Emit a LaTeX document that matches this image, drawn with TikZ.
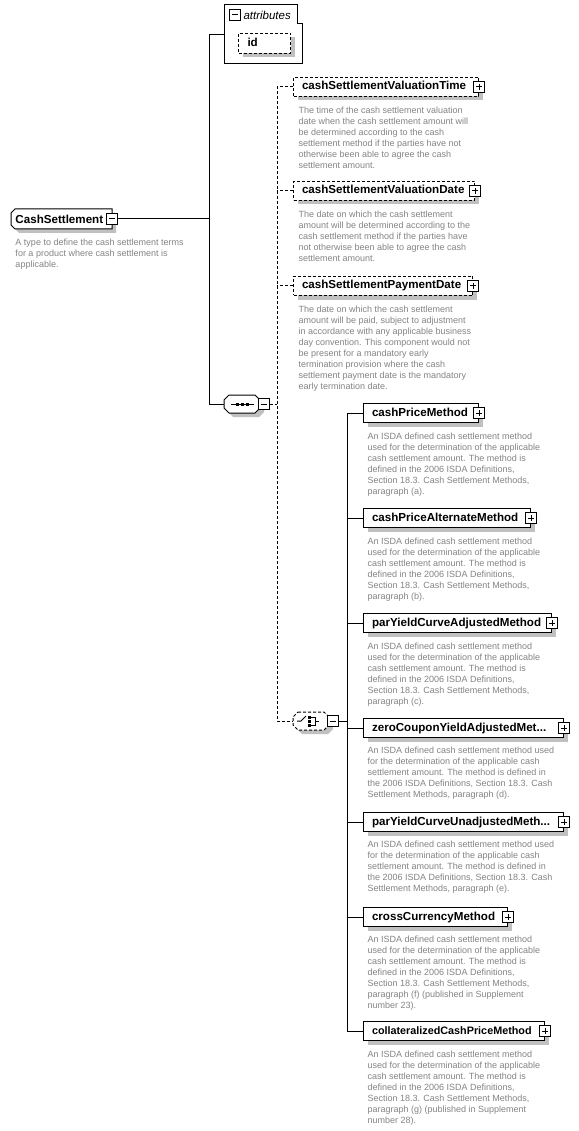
\documentclass[tikz,border=0pt]{standalone}
\usepackage{fontspec}
\setmainfont{Liberation Sans}
\usetikzlibrary{shadows}
\definecolor{descgray}{RGB}{132,132,132}
\definecolor{shadowgray}{RGB}{192,192,192}
\newcommand{\titlefont}{\bfseries\fontsize{11.6}{13}\selectfont}
\newcommand{\descfont}{\fontsize{9}{11}\selectfont}
\newcommand{\octo}[6]{%
  \draw[#1] (#2+#6,#3) -- (#4-#6,#3) -- (#4,#3+#6) -- (#4,#5-#6) -- (#4-#6,#5) -- (#2+#6,#5) -- (#2,#5-#6) -- (#2,#3+#6) -- cycle;}
\newcommand{\elem}[6]{%
  \pgfmathsetmacro{\bw}{#5-#3}%
  \pgfmathsetmacro{\tw}{#5-#3-17}%
  \node[#1, minimum width=\bw pt, text width=\tw pt] (#2) at (#3,#4) {#6};%
  \node[plusicon] (#2p) at (#2.east) {};%
}
\begin{document}
\begin{tikzpicture}[x=1pt,y=-1pt, line width=1pt,
  conn/.style={line width=1pt},
  optconn/.style={line width=1pt, dash pattern=on 3pt off 2pt},
  shad/.style={drop shadow={shadow xshift=4pt, shadow yshift=-4pt, fill=shadowgray, opacity=1}},
  elembox/.style={draw, fill=white, line width=1pt, inner xsep=8.5pt, inner ysep=0pt,
    minimum height=19pt, text height=8.5pt, text depth=2.5pt, font=\titlefont,
    align=left, anchor=west, shad},
  optbox/.style={elembox, dash pattern=on 3pt off 2pt},
  desc/.style={font=\descfont, text=descgray, anchor=north west, inner sep=0pt, align=left},
  icon/.style={draw, fill=white, line width=1pt, minimum size=11pt, inner sep=0pt},
  minusicon/.style={icon, path picture={
     \draw[line width=1pt] ([xshift=2.5pt]path picture bounding box.west) -- ([xshift=-2.5pt]path picture bounding box.east);}},
  plusicon/.style={icon, path picture={
     \draw[line width=1pt] ([xshift=2.5pt]path picture bounding box.west) -- ([xshift=-2.5pt]path picture bounding box.east);
     \draw[line width=1pt] ([yshift=-2.5pt]path picture bounding box.north) -- ([yshift=2.5pt]path picture bounding box.south);}},
]
\fill[white] (0,0) rectangle (578,1131);
\useasboundingbox (0,0) rectangle (578,1131);

% ---------- junction coordinates ----------
\coordinate (ja) at (209,35);
\coordinate (j1) at (209,219);
\coordinate (jb) at (209,404);
\coordinate (jc) at (277,404);
\coordinate (jd) at (347,721);
\coordinate (attrW) at (224,35);
\coordinate (seqW) at (224,404);
\coordinate (choW) at (293,721);

% ---------- connectors ----------
\draw[conn] (attrW) -- (ja) -- (jb) -- (seqW);

% ---------- CashSettlement ----------
\fill[shadowgray, shift={(4,4)}] (15,209) -- (112,209) -- (112,229) -- (15,229) -- (11,225) -- (11,213) -- cycle;
\draw[fill=white] (15,209) -- (112,209) -- (112,229) -- (15,229) -- (11,225) -- (11,213) -- cycle;
\node[font=\titlefont, anchor=west, inner sep=0pt] (cs) at (15,219) {CashSettlement};
\node[minusicon] (csm) at (112,219) {};
\draw[conn] (csm.east) -- (j1);
\node[desc] (csD) at (15,238.5) {A type to define the cash settlement terms\\for a product where cash settlement is\\applicable.};

% ---------- attributes ----------
\draw[fill=white] (224,5) -- (297,5) -- (297,24) -- (302,24) -- (302,64) -- (224,64) -- cycle;
\node[minusicon] (atm) at (234.5,15) {};
\node[font=\itshape\fontsize{11.5}{13}\selectfont, anchor=west, inner sep=0pt] (att) at (243,15) {attributes};
\node[optbox, anchor=north west, minimum width=52pt, minimum height=20pt, text width=34pt, inner xsep=9pt] (idb) at (238,33) {id};

% ---------- sequence compositor ----------
\octo{fill=shadowgray, draw=none, shift={(4,4)}}{224}{395}{260}{413}{5}
\octo{fill=white}{224}{395}{260}{413}{5}
\draw[line width=1pt] (231,404) -- (254,404);
\fill (236,402.5) rectangle (239,405.5);
\fill (241,402.5) rectangle (244,405.5);
\fill (246,402.5) rectangle (249,405.5);
\node[minusicon] (seqm) at (263.5,404) {};
\draw[optconn] (seqm.east) -- (jc);

% ---------- optional sequence elements ----------
\elem{optbox}{vt}{293}{87}{478}{cashSettlementValuationTime}
\elem{optbox}{vd}{293}{191}{474}{cashSettlementValuationDate}
\elem{optbox}{pd}{293}{286}{472}{cashSettlementPaymentDate}
\draw[optconn] (vt.west) -- (vt.west -| jc) -- (choW -| jc) -- (choW);
\draw[optconn] (vd.west) -- (vd.west -| jc);
\draw[optconn] (pd.west) -- (pd.west -| jc);

\node[desc] (vtD) at (298,106.5) {The time of the cash settlement valuation\\date when the cash settlement amount will\\be determined according to the cash\\settlement method if the parties have not\\otherwise been able to agree the cash\\settlement amount.};
\node[desc] (vdD) at (298,210.5) {The date on which the cash settlement\\amount will be determined according to the\\cash settlement method if the parties have\\not otherwise been able to agree the cash\\settlement amount.};
\node[desc] (pdD) at (298,305.5) {The date on which the cash settlement\\amount will be paid, subject to adjustment\\in accordance with any applicable business\\day convention. This component would not\\be present for a mandatory early\\termination provision where the cash\\settlement payment date is the mandatory\\early termination date.};

% ---------- choice compositor ----------
\octo{fill=shadowgray, draw=none, shift={(4,4)}}{293}{712}{329}{730}{5}
\octo{fill=white, dash pattern=on 3pt off 2pt}{293}{712}{329}{730}{5}
\draw[line width=1pt] (297,721) -- (301,721) -- (306,716);
\fill (308,715.5) rectangle (311,718.5);
\fill (308,719.5) rectangle (311,722.5);
\fill (308,723.5) rectangle (311,726.5);
\draw[line width=1pt] (311,717) -- (315,717) -- (315,725) -- (311,725);
\draw[line width=1pt] (315,721) -- (319,721);
\node[minusicon] (chom) at (332.5,721) {};
\draw[conn] (chom.east) -- (jd);

% ---------- choice elements ----------
\elem{elembox}{cpm}{363}{413}{478}{cashPriceMethod}
\elem{elembox}{cpa}{363}{518}{530}{cashPriceAlternateMethod}
\elem{elembox}{pya}{363}{623}{551}{parYieldCurveAdjustedMethod}
\elem{elembox}{zcy}{363}{728}{563}{zeroCouponYieldAdjustedMet...}
\elem{elembox}{pyu}{363}{822}{563}{parYieldCurveUnadjustedMeth...}
\elem{elembox}{ccm}{363}{917}{507}{crossCurrencyMethod}
\elem{elembox}{ccp}{363}{1031}{544}{\fontsize{10.8}{13}\selectfont collateralizedCashPriceMethod}

\draw[conn] (cpm.west -| jd) -- (ccp.west -| jd);
\foreach \n in {cpm,cpa,pya,zcy,pyu,ccm,ccp}{\draw[conn] (\n.west -| jd) -- (\n.west);}

\node[desc] (cpmD) at (367,432.5) {An ISDA defined cash settlement method\\used for the determination of the applicable\\cash settlement amount. The method is\\defined in the 2006 ISDA Definitions,\\Section 18.3. Cash Settlement Methods,\\paragraph (a).};
\node[desc] (cpaD) at (367,537.5) {An ISDA defined cash settlement method\\used for the determination of the applicable\\cash settlement amount. The method is\\defined in the 2006 ISDA Definitions,\\Section 18.3. Cash Settlement Methods,\\paragraph (b).};
\node[desc] (pyaD) at (367,642.5) {An ISDA defined cash settlement method\\used for the determination of the applicable\\cash settlement amount. The method is\\defined in the 2006 ISDA Definitions,\\Section 18.3. Cash Settlement Methods,\\paragraph (c).};
\node[desc] (zcyD) at (367,746.5) {An ISDA defined cash settlement method used\\for the determination of the applicable cash\\settlement amount. The method is defined in\\the 2006 ISDA Definitions, Section 18.3. Cash\\Settlement Methods, paragraph (d).};
\node[desc] (pyuD) at (367,840.5) {An ISDA defined cash settlement method used\\for the determination of the applicable cash\\settlement amount. The method is defined in\\the 2006 ISDA Definitions, Section 18.3. Cash\\Settlement Methods, paragraph (e).};
\node[desc] (ccmD) at (367,935.5) {An ISDA defined cash settlement method\\used for the determination of the applicable\\cash settlement amount. The method is\\defined in the 2006 ISDA Definitions,\\Section 18.3. Cash Settlement Methods,\\paragraph (f) (published in Supplement\\number 23).};
\node[desc] (ccpD) at (367,1050.5) {An ISDA defined cash settlement method\\used for the determination of the applicable\\cash settlement amount. The method is\\defined in the 2006 ISDA Definitions,\\Section 18.3. Cash Settlement Methods,\\paragraph (g) (published in Supplement\\number 28).};
\end{tikzpicture}
\end{document}
